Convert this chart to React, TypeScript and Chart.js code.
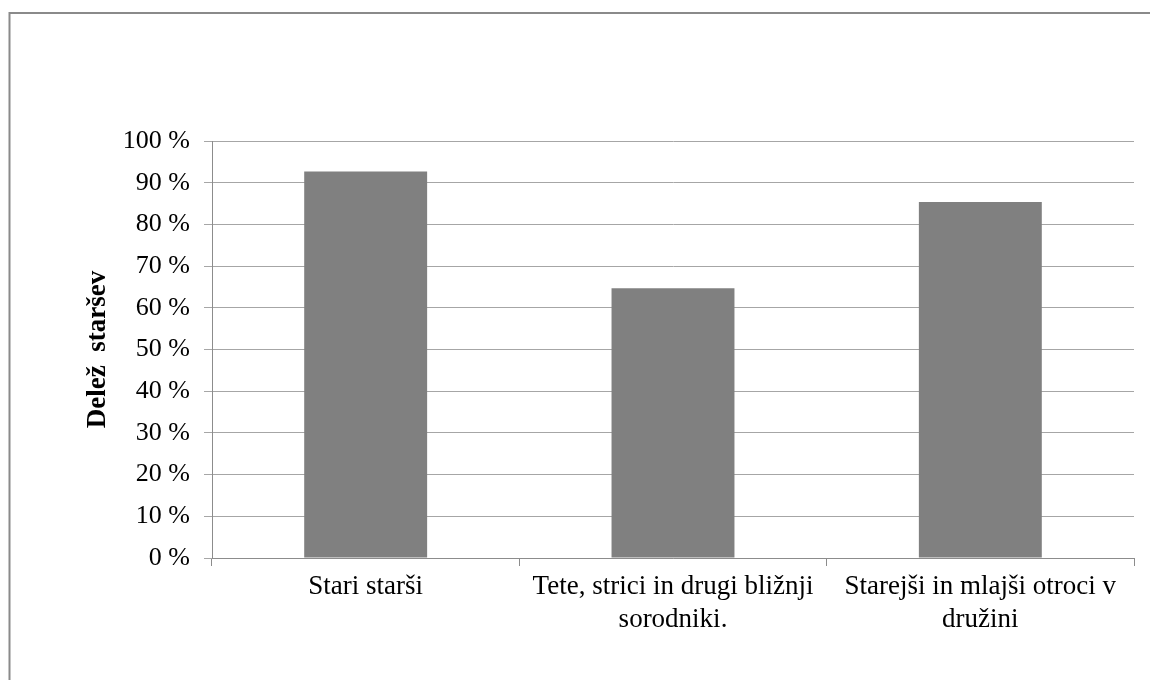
import { useEffect, useRef } from "react";
import { Chart, registerables } from "chart.js";

Chart.register(...registerables);

const categories: string[][] = [
  ["Stari starši"],
  ["Tete, strici in drugi bližnji", "sorodniki."],
  ["Starejši in mlajši otroci v", "družini"],
];
const shares = [92.7, 64.7, 85.4];
const axisTitle = "Delež  staršev";

const SERIF = "'Liberation Serif', 'Times New Roman', serif";

// White background plus the thin grey frame around the chart.
const framePlugin = {
  id: "frame",
  beforeDraw(chart: Chart) {
    const ctx = chart.ctx;
    ctx.save();
    ctx.fillStyle = "#ffffff";
    ctx.fillRect(0, 0, chart.width, chart.height);
    ctx.strokeStyle = "#8a8a8a";
    ctx.lineWidth = 2;
    ctx.strokeRect(9.5, 13, chart.width + 40, chart.height + 40);
    ctx.restore();
  },
};

export default function App() {
  const canvasRef = useRef<HTMLCanvasElement | null>(null);

  useEffect(() => {
    document.body.style.margin = "0";
    const canvas = canvasRef.current;
    if (!canvas) return;
    const chart = new Chart(canvas, {
      type: "bar",
      data: {
        labels: categories,
        datasets: [
          {
            data: shares,
            backgroundColor: "#808080",
            borderWidth: 0,
            categoryPercentage: 1,
            barPercentage: 0.4,
          },
        ],
      },
      plugins: [framePlugin],
      options: {
        responsive: false,
        animation: false,
        devicePixelRatio: 1,
        layout: { padding: { left: 0, top: 141, right: 16, bottom: 0 } },
        plugins: {
          legend: { display: false },
          tooltip: { enabled: false },
        },
        scales: {
          x: {
            grid: {
              display: true,
              offset: true,
              drawOnChartArea: false,
              drawTicks: true,
              tickLength: 8,
              color: "#8c8c8c",
            },
            border: { display: true, color: "#8c8c8c", width: 1 },
            ticks: {
              color: "#000000",
              font: { family: SERIF, size: 27 },
              padding: 5,
              maxRotation: 0,
              autoSkip: false,
            },
            afterFit(scale: any) {
              scale.height = 122;
            },
          },
          y: {
            min: 0,
            max: 100,
            ticks: {
              stepSize: 10,
              color: "#000000",
              font: { family: SERIF, size: 26 },
              padding: 14,
              callback: (v: any) => `${v} %`,
            },
            grid: {
              color: "#a6a6a6",
              lineWidth: 1,
              tickLength: 8,
              drawTicks: true,
            },
            border: { display: true, color: "#8c8c8c", width: 1 },
            title: {
              display: true,
              text: axisTitle,
              color: "#000000",
              font: { family: SERIF, size: 27, weight: "bold" },
              padding: { top: 82, bottom: 0 },
            },
            afterFit(scale: any) {
              scale.width = 212;
            },
          },
        },
      },
    });
    return () => chart.destroy();
  }, []);

  return (
    <div style={{ width: 1150, height: 680, position: "relative" }}>
      <canvas ref={canvasRef} width={1150} height={680} style={{ display: "block" }} />
    </div>
  );
}
